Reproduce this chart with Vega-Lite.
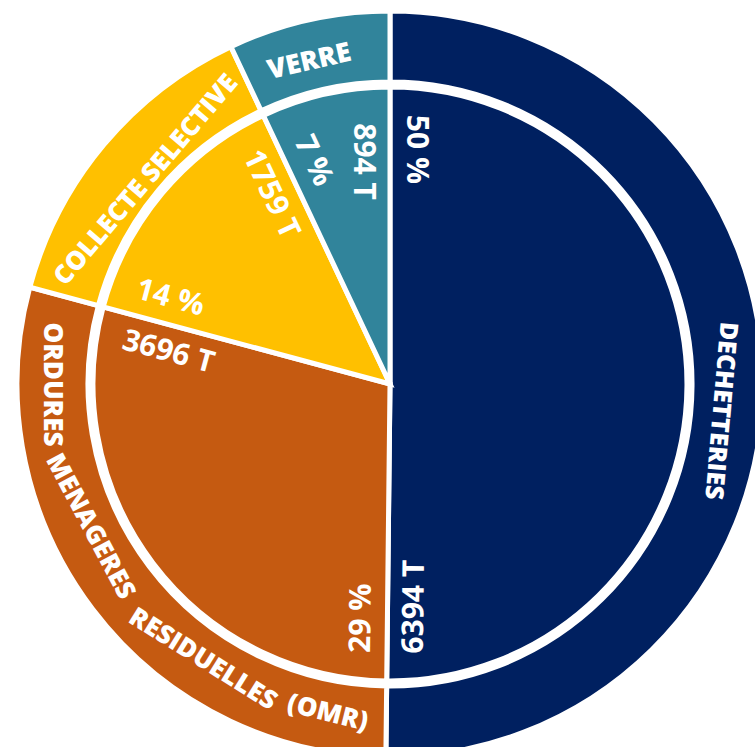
{
  "$schema": "https://vega.github.io/schema/vega-lite/v6.json",
  "width": 780,
  "height": 768,
  "autosize": {"type": "none"},
  "padding": {"left": 0, "top": 0, "right": -25, "bottom": -21},
  "background": "white",
  "config": {"view": {"stroke": null}},
  "data": {"values": [
    {"categorie": "DECHETTERIES", "tonnes": 6394, "pourcentage": "50 %", "tonnage": "6394 T"},
    {"categorie": "ORDURES MENAGERES RESIDUELLES (OMR)", "tonnes": 3696, "pourcentage": "29 %", "tonnage": "3696 T"},
    {"categorie": "COLLECTE SELECTIVE", "tonnes": 1759, "pourcentage": "14 %", "tonnage": "1759 T"},
    {"categorie": "VERRE", "tonnes": 894, "pourcentage": "7 %", "tonnage": "894 T"}
  ]},
  "transform": [
    {"stack": "tonnes", "groupby": [], "sort": [{"field": "tonnes", "order": "descending"}], "as": ["debut", "fin"]},
    {"calculate": "(datum.debut + datum.fin) / 2", "as": "milieu"}
  ],
  "encoding": {
    "theta": {"field": "debut", "type": "quantitative", "scale": {"nice": false, "zero": true}}
  },
  "layer": [
    {
      "mark": {"type": "arc", "innerRadius": 302, "outerRadius": 373, "stroke": "white", "strokeWidth": 5},
      "encoding": {
        "theta2": {"field": "fin"},
        "color": {"field": "categorie", "type": "nominal", "legend": null,
          "scale": {"domain": ["DECHETTERIES", "ORDURES MENAGERES RESIDUELLES (OMR)", "COLLECTE SELECTIVE", "VERRE"],
                    "range": ["#002060", "#C55A11", "#FFC000", "#31849B"]}}
      }
    },
    {
      "mark": {"type": "arc", "innerRadius": 0, "outerRadius": 297, "stroke": "white", "strokeWidth": 5},
      "encoding": {
        "theta2": {"field": "fin"},
        "color": {"field": "categorie", "type": "nominal", "legend": null}
      }
    },
    {
      "mark": {"type": "text", "radius": 236, "thetaOffset": 0.11, "font": "Open Sans", "fontWeight": "bold", "fontSize": 30, "fill": "white", "align": "center", "baseline": "middle"},
      "encoding": {
        "theta": {"field": "debut", "type": "quantitative"},
        "text": {"field": "pourcentage"},
        "angle": {"field": "debut", "type": "quantitative", "scale": {"domain": [0, 12743], "range": [90, 450]}}
      }
    },
    {
      "mark": {"type": "text", "radius": 224, "thetaOffset": -0.12, "font": "Open Sans", "fontWeight": "bold", "fontSize": 30, "fill": "white", "align": "center", "baseline": "middle"},
      "encoding": {
        "theta": {"field": "fin", "type": "quantitative"},
        "text": {"field": "tonnage"},
        "angle": {"field": "fin", "type": "quantitative"}
      }
    },
    {
      "transform": [{"filter": "datum.categorie === 'DECHETTERIES'"}],
      "mark": {"type": "text", "radius": 332, "thetaOffset": 0.075, "angle": 95, "font": "Open Sans", "fontWeight": 800, "fontSize": 25, "fill": "white", "align": "center", "baseline": "middle"},
      "encoding": {"theta": {"field": "milieu", "type": "quantitative"}, "text": {"field": "categorie"}}
    },
    {
      "transform": [{"filter": "datum.categorie === 'VERRE'"}],
      "mark": {"type": "text", "radius": 332, "thetaOffset": -0.025, "angle": -13, "font": "Open Sans", "fontWeight": 800, "fontSize": 27, "fill": "white", "align": "center", "baseline": "middle"},
      "encoding": {"theta": {"field": "milieu", "type": "quantitative"}, "text": {"field": "categorie"}}
    },
    {
      "transform": [{"filter": "datum.categorie === 'COLLECTE SELECTIVE'"}],
      "mark": {"type": "text", "radius": 318, "thetaOffset": 0, "angle": -49.5, "font": "Open Sans", "fontWeight": 800, "fontSize": 26, "fill": "white", "align": "center", "baseline": "middle"},
      "encoding": {"theta": {"field": "milieu", "type": "quantitative"}, "text": {"field": "categorie"}}
    },
    {
      "transform": [{"filter": "datum.categorie === 'ORDURES MENAGERES RESIDUELLES (OMR)'"}],
      "mark": {"type": "text", "text": "ORDURES", "radius": 338, "thetaOffset": 0.647, "angle": 90, "font": "Open Sans", "fontWeight": 800, "fontSize": 26, "fill": "white", "align": "center", "baseline": "middle"},
      "encoding": {"theta": {"field": "milieu", "type": "quantitative"}}
    },
    {
      "transform": [{"filter": "datum.categorie === 'ORDURES MENAGERES RESIDUELLES (OMR)'"}],
      "mark": {"type": "text", "text": "MENAGERES", "radius": 332, "thetaOffset": 0.205, "angle": 62, "font": "Open Sans", "fontWeight": 800, "fontSize": 26, "fill": "white", "align": "center", "baseline": "middle"},
      "encoding": {"theta": {"field": "milieu", "type": "quantitative"}}
    },
    {
      "transform": [{"filter": "datum.categorie === 'ORDURES MENAGERES RESIDUELLES (OMR)'"}],
      "mark": {"type": "text", "text": "RESIDUELLES", "radius": 333, "thetaOffset": -0.325, "angle": 32, "font": "Open Sans", "fontWeight": 800, "fontSize": 26, "fill": "white", "align": "center", "baseline": "middle"},
      "encoding": {"theta": {"field": "milieu", "type": "quantitative"}}
    },
    {
      "transform": [{"filter": "datum.categorie === 'ORDURES MENAGERES RESIDUELLES (OMR)'"}],
      "mark": {"type": "text", "text": "(OMR)", "radius": 335, "thetaOffset": -0.735, "angle": 14, "font": "Open Sans", "fontWeight": 800, "fontSize": 26, "fill": "white", "align": "center", "baseline": "middle"},
      "encoding": {"theta": {"field": "milieu", "type": "quantitative"}}
    }
  ]
}
